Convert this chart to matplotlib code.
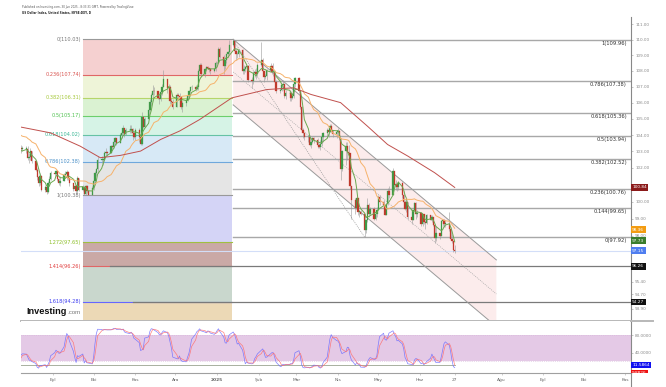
import numpy as np
import pandas as pd
import matplotlib
matplotlib.use('Agg')
import matplotlib.pyplot as plt
import matplotlib.dates as mdates
from matplotlib.ticker import NullLocator
from matplotlib.transforms import blended_transform_factory, Bbox, TransformedBbox
from matplotlib.lines import Line2D

# ---- daily candles, US Dollar Index (one row per week) ----
first_open = 104.95
closes = [
    105.05, 104.45, 104.10,                    # Jul 10-12
    104.25, 104.25, 103.75, 104.20, 104.40,    # Jul 15
    104.30, 104.45, 104.40, 104.35, 104.30,    # Jul 22
    104.55, 104.45, 104.10, 104.40, 103.20,    # Jul 29
    102.70, 102.95, 103.20, 103.15, 103.15,    # Aug 5
    103.15, 102.60, 102.65, 103.00, 102.45,    # Aug 12
    101.90, 101.45, 101.10, 101.50, 100.70,    # Aug 19
    100.85, 100.55, 101.10, 101.35, 101.70,    # Aug 26
    101.65, 101.80, 101.35, 101.10, 101.20,    # Sep 2
    101.60, 101.65, 101.75, 101.40, 101.10,    # Sep 9
    100.75, 100.90, 100.60, 101.40, 100.70,    # Sep 16
    100.85, 100.45, 100.90, 100.60, 100.40,    # Sep 23
    100.80, 101.20, 101.70, 101.95, 102.50,    # Sep 30
    102.50, 102.50, 102.90, 102.95, 102.90,    # Oct 7
    103.30, 103.25, 103.55, 103.80, 103.50,    # Oct 14
    104.00, 104.10, 104.40, 104.05, 104.30,    # Oct 21
    104.30, 104.35, 104.10, 103.90, 104.30,    # Oct 28
    103.90, 103.45, 105.10, 104.50, 105.00,    # Nov 4
    105.55, 106.05, 106.50, 106.75, 106.70,    # Nov 11
    106.30, 106.20, 106.65, 107.00, 107.50,    # Nov 18
    106.90, 107.00, 106.10, 106.05, 105.75,    # Nov 25
    106.45, 106.40, 106.35, 105.75, 106.00,    # Dec 2
    106.15, 106.40, 106.70, 106.95, 107.00,    # Dec 9
    106.85, 106.95, 108.00, 108.40, 107.80,    # Dec 16
    108.10, 108.25, 108.20, 108.10, 108.00,    # Dec 23
    108.10, 108.50, 108.50, 109.40, 108.90,    # Dec 30
    108.30, 108.70, 109.05, 109.20, 109.65,    # Jan 6
    109.90, 109.25, 109.05, 109.10, 109.35,    # Jan 13
    108.00, 108.10, 108.25, 108.30, 107.45,    # Jan 20
    107.35, 107.85, 107.95, 107.80, 108.40,    # Jan 27
    108.70, 108.00, 107.60, 107.70, 108.05,    # Feb 3
    108.30, 107.95, 107.95, 107.30, 106.75,    # Feb 10
    106.80, 107.10, 107.20, 106.40, 106.60,    # Feb 17
    106.60, 106.30, 106.40, 107.20, 107.55,    # Feb 24
    106.75, 105.75, 104.30, 104.10, 103.85,    # Mar 3
    103.90, 103.40, 103.60, 103.80, 103.70,    # Mar 10
    103.40, 103.25, 103.45, 103.85, 104.10,    # Mar 17
    104.30, 104.20, 104.55, 104.30, 104.05,    # Mar 24
    104.20, 104.25, 103.80, 101.95, 103.00,    # Mar 31
    103.30, 102.95, 102.90, 100.90, 100.10,    # Apr 7
    99.65, 100.20, 99.40, 99.40, 99.25,        # Apr 14
    98.35, 98.90, 99.80, 99.30, 99.55,         # Apr 21
    99.00, 99.25, 99.50, 100.25, 100.00,       # Apr 28
    99.80, 99.20, 99.85, 100.65, 100.40,       # May 5
    101.80, 101.00, 101.05, 100.85, 101.10,    # May 12
    100.40, 100.00, 99.55, 99.95, 99.10,       # May 19
    98.95, 99.50, 99.90, 99.30, 99.35,         # May 26
    98.70, 99.25, 98.80, 98.75, 99.20,         # Jun 2
    98.95, 99.10, 98.65, 97.90, 98.15,         # Jun 9
    98.00, 98.85, 98.90, 98.70, 98.70,         # Jun 16
    98.40, 97.85, 97.70, 97.20, 97.15,         # Jun 23
]
highs = [
    105.20, 105.10, 104.60,
    104.40, 104.40, 104.30, 104.30, 104.50,
    104.50, 104.50, 104.50, 104.50, 104.45,
    104.80, 104.60, 104.60, 104.50, 104.40,
    103.30, 103.20, 103.40, 103.40, 103.30,
    103.30, 103.30, 102.90, 103.20, 103.00,
    102.50, 102.00, 101.60, 101.70, 101.60,
    101.00, 101.00, 101.20, 101.50, 101.80,
    101.80, 101.90, 101.80, 101.40, 101.50,
    101.70, 101.80, 101.90, 101.80, 101.40,
    101.10, 101.00, 101.00, 101.50, 101.40,
    101.00, 100.90, 101.00, 101.00, 100.70,
    100.90, 101.30, 101.80, 102.00, 102.70,
    102.70, 102.60, 103.00, 103.20, 103.00,
    103.40, 103.40, 103.70, 103.90, 103.80,
    104.10, 104.30, 104.60, 104.40, 104.40,
    104.60, 104.60, 104.40, 104.20, 104.40,
    104.40, 104.00, 105.40, 105.20, 105.10,
    105.70, 106.20, 106.60, 107.10, 107.00,
    106.70, 106.60, 106.70, 107.20, 108.07,
    107.50, 107.20, 107.10, 106.30, 106.20,
    106.60, 106.60, 106.60, 106.40, 106.10,
    106.30, 106.50, 106.80, 107.00, 107.10,
    107.10, 107.00, 108.10, 108.50, 108.50,
    108.20, 108.30, 108.30, 108.20, 108.20,
    108.20, 108.60, 108.55, 109.55, 109.50,
    109.00, 108.70, 109.10, 109.30, 109.95,
    110.03, 110.00, 109.40, 109.20, 109.40,
    109.40, 108.40, 108.30, 108.40, 108.40,
    107.60, 108.00, 108.10, 108.20, 108.50,
    109.88, 108.80, 108.00, 107.80, 108.10,
    108.50, 108.40, 108.50, 108.00, 107.40,
    106.90, 107.20, 107.40, 107.20, 106.80,
    106.80, 106.70, 106.60, 107.30, 107.60,
    107.60, 106.80, 105.80, 104.40, 104.10,
    104.00, 104.00, 103.80, 103.90, 103.90,
    103.80, 103.50, 103.70, 104.10, 104.20,
    104.40, 104.50, 104.70, 104.70, 104.30,
    104.30, 104.40, 104.30, 103.80, 103.10,
    103.60, 103.60, 103.40, 102.90, 100.95,
    100.20, 100.30, 100.20, 99.50, 99.50,
    99.30, 99.00, 100.20, 99.90, 99.70,
    99.70, 99.30, 99.70, 100.40, 100.40,
    100.10, 99.80, 99.90, 100.80, 100.90,
    101.98, 101.70, 101.30, 101.00, 101.20,
    101.15, 100.60, 100.10, 100.10, 100.00,
    99.20, 99.50, 100.00, 100.00, 99.50,
    99.40, 99.30, 99.20, 98.90, 99.30,
    99.20, 99.20, 99.10, 98.70, 98.60,
    98.20, 98.90, 99.00, 99.00, 98.90,
    99.40, 98.50, 98.10, 97.70, 97.50,
]
lows = [
    104.90, 104.20, 104.00,
    104.00, 104.00, 103.65, 103.70, 104.10,
    104.20, 104.20, 104.20, 104.10, 104.20,
    104.20, 104.30, 103.90, 103.90, 103.00,
    102.20, 102.60, 102.90, 102.90, 103.00,
    102.90, 102.50, 102.30, 102.50, 102.30,
    101.80, 101.30, 100.95, 101.00, 100.60,
    100.55, 100.45, 100.50, 100.90, 101.30,
    101.50, 101.50, 101.20, 101.00, 100.90,
    101.20, 101.40, 101.30, 101.30, 100.90,
    100.60, 100.70, 100.45, 100.50, 100.60,
    100.60, 100.40, 100.40, 100.50, 100.38,
    100.40, 100.70, 101.10, 101.50, 101.70,
    102.30, 102.20, 102.40, 102.80, 102.70,
    102.90, 103.10, 103.20, 103.40, 103.40,
    103.50, 103.80, 104.00, 103.90, 104.00,
    104.10, 104.10, 103.70, 103.80, 103.70,
    103.60, 103.40, 103.40, 104.40, 104.50,
    105.00, 105.50, 105.80, 106.30, 106.50,
    106.20, 105.90, 106.10, 106.50, 107.00,
    106.60, 106.70, 105.90, 105.90, 105.60,
    105.70, 106.20, 106.20, 105.60, 105.40,
    105.80, 106.10, 106.30, 106.60, 106.80,
    106.70, 106.80, 106.80, 107.90, 107.60,
    107.60, 108.00, 108.10, 107.90, 107.80,
    107.90, 108.00, 108.45, 108.50, 108.80,
    107.80, 108.10, 108.50, 108.90, 109.10,
    109.60, 109.20, 108.70, 108.80, 108.90,
    107.80, 107.80, 107.90, 107.90, 107.30,
    106.90, 107.20, 107.60, 107.50, 107.70,
    108.30, 107.80, 107.30, 107.50, 107.40,
    108.00, 107.80, 107.70, 107.20, 106.60,
    106.60, 106.70, 106.80, 106.30, 106.20,
    106.10, 106.10, 106.20, 106.30, 107.00,
    106.60, 105.60, 104.20, 103.80, 103.70,
    103.60, 103.30, 103.20, 103.50, 103.50,
    103.20, 103.20, 103.10, 103.30, 103.60,
    103.90, 103.90, 104.20, 104.20, 103.90,
    103.80, 103.90, 103.70, 101.30, 101.80,
    102.20, 102.50, 101.80, 100.75, 99.00,
    99.30, 99.50, 99.20, 99.10, 99.20,
    97.92, 98.20, 98.80, 99.10, 99.20,
    98.90, 98.90, 99.10, 99.50, 99.80,
    99.60, 99.20, 99.20, 99.80, 100.20,
    100.60, 100.80, 100.70, 100.60, 100.70,
    100.20, 99.90, 99.50, 99.40, 99.00,
    98.70, 98.90, 99.50, 99.00, 99.10,
    98.60, 98.60, 98.70, 98.40, 98.70,
    98.90, 98.80, 98.60, 97.60, 97.70,
    97.80, 98.00, 98.60, 98.50, 98.50,
    98.30, 97.80, 97.60, 97.10, 97.00,
]

# 100-day average
ma100_dates = ['2024-08-07', '2024-08-30', '2024-09-21', '2024-10-06', '2024-10-21',
               '2024-11-05', '2024-11-20', '2024-12-04', '2024-12-19', '2025-01-12',
               '2025-02-07', '2025-02-27', '2025-03-12', '2025-04-03', '2025-04-23',
               '2025-05-08', '2025-05-23', '2025-06-12', '2025-06-27']
ma100_vals = [104.50, 104.13, 103.32, 102.62, 102.76, 103.02, 103.73, 104.24, 104.95,
              106.30, 106.82, 106.93, 106.51, 106.00, 104.54, 103.42, 102.72, 101.72, 100.84]

# fibonacci retracement Sep low -> Jan high
fib_left_ratios = ['0', '0.236', '0.382', '0.5', '0.618', '0.786', '1', '1.272', '1.414', '1.618', '2.618']
fib_left_prices = [110.03, 107.74, 106.31, 105.17, 104.02, 102.38, 100.38, 97.65, 96.26, 94.28, 84.77]
fib_left_span = ['2024-09-23', '2025-01-12']

# fibonacci retracement Jan high -> Apr low
fib_right_ratios = ['1', '0.786', '0.618', '0.5', '0.382', '0.236', '0.144', '0']
fib_right_prices = [109.96, 107.38, 105.36, 103.94, 102.52, 100.76, 99.65, 97.92]
fib_right_anchor = ['2025-01-13', '2025-04-21']

hline_prices = [96.26, 94.27]
hline_starts = ['2024-10-13', '2024-10-30']

channel_dates = ['2025-01-13', '2025-07-28']
channel_upper = [110.03, 96.63]
channel_mid = [107.93, 94.71]
channel_lower = [105.86, 92.91]

last_price = 97.15
badge_vals = [100.84, 98.36, 97.73, 97.15, 96.26, 94.27]
stoch_badges = ['11.5864', '9.8826']
stoch_last = 11.5864

y_ticks = [111, 110, 109, 108, 107, 106, 105, 104, 103, 102, 100, 99, 98, 95.4, 94.7, 93.9]
month_ticks = ['2024-09-01', '2024-10-01', '2024-11-01', '2024-12-01', '2025-01-01', '2025-02-01',
               '2025-03-01', '2025-04-01', '2025-05-01', '2025-06-01', '2025-06-27', '2025-08-01',
               '2025-09-01', '2025-10-01', '2025-11-01']
month_labels = ['Eyl', 'Eki', 'Kas', 'Ara', '2025', 'Şub', 'Mar', 'Nis', 'May', 'Haz', '27',
                'Ağu', 'Eyl', 'Eki', 'Kas']

# ---- styles ----
fib_fill = ['#f5d0d0', '#eef4d8', '#daf2d2', '#d6f3e6', '#d7e9f6', '#e5e5e5',
            '#d4d4f6', '#caa9a6', '#c9d7cd', '#ecd9b6']
fib_line = ['#999999', '#e06666', '#b6d56a', '#6ccf6c', '#66c2a5', '#6fa8dc',
            '#999999', '#a0c040', '#e06666', '#6666ff', '#999999']
fib_text = ['#777777', '#d9534f', '#a5c83a', '#4cc04c', '#3ab795', '#4a90c8',
            '#777777', '#8cbf26', '#e03c3c', '#3c3cf0', '#777777']
badge_colors = ['#8b1a1a', '#f39c12', '#3a7d2c', '#4f7ef0', '#111111', '#111111']

dates = pd.bdate_range('2024-07-10', '2025-06-27')
assert len(dates) == len(closes) == len(highs) == len(lows)
x = mdates.date2num(dates.to_pydatetime())
c = np.array(closes)
o = np.concatenate([[first_open], c[:-1]])
h = np.maximum(np.array(highs), np.maximum(o, c))
l = np.minimum(np.array(lows), np.minimum(o, c))

s = pd.Series(c)
ma_fast = s.rolling(5).mean()
ma_slow = s.rolling(20).mean()
ll = pd.Series(l).rolling(14).min()
hh = pd.Series(h).rolling(14).max()
k_raw = 100 * (s - ll) / (hh - ll)
stoch_k = k_raw.rolling(3).mean()
stoch_d = stoch_k.rolling(3).mean()

def dn(d):
    return mdates.date2num(pd.Timestamp(d).to_pydatetime())

sep1 = dn('2024-09-01')
x0, x1 = sep1 - 24.06, sep1 + 430.3

fig = plt.figure(figsize=(6.66, 3.87), dpi=100)
ax = fig.add_axes([21 / 666, 1 - 321.3 / 387, 610 / 666, 304 / 387])
ax2 = fig.add_axes([21 / 666, 1 - 373.3 / 387, 610 / 666, 52 / 387])

ax.set_yscale('log')
ax.set_xlim(x0, x1)
ax.set_ylim(93.20, 111.46)

# left fib box
fl0, fl1 = dn(fib_left_span[0]), dn(fib_left_span[1])
for i in range(len(fib_left_prices) - 1):
    ax.fill_between([fl0, fl1], fib_left_prices[i + 1], fib_left_prices[i],
                    color=fib_fill[i], lw=0, zorder=1)
for i, (r, p) in enumerate(zip(fib_left_ratios, fib_left_prices)):
    ax.plot([fl0, fl1], [p, p], color=fib_line[i], lw=0.8, zorder=1.5)
    ax.annotate(f'{r}({p:.2f})', (fl0, p), xytext=(-1.5, 0), textcoords='offset points',
                ha='right', va='center', fontsize=3.6, color=fib_text[i],
                annotation_clip=True, clip_on=True)

# right fib lines
fr0 = dn(fib_right_anchor[0])
for r, p in zip(fib_right_ratios, fib_right_prices):
    ax.plot([fr0, x1], [p, p], color='#a8a8a8', lw=1.0, zorder=1.5)
    ax.annotate(f'{r}({p:.2f})', (x1, p), xytext=(-3, -0.8), textcoords='offset points',
                ha='right', va='top', fontsize=3.7, color='#333333')
ax.plot([dn(d) for d in fib_right_anchor], [fib_right_prices[0], fib_right_prices[-1]],
        color='#999999', lw=0.5, ls=(0, (1.5, 1.5)), zorder=1.6)

for p, d in zip(hline_prices, hline_starts):
    ax.plot([dn(d), x1], [p, p], color='#7a7a7a', lw=0.9, zorder=1.6)

ax.plot([x0, x1], [last_price, last_price], color='#d3def8', lw=0.8, zorder=1.2)

# channel
cd = [dn(d) for d in channel_dates]
ax.fill([cd[0], cd[1], cd[1], cd[0]],
        [channel_upper[0], channel_upper[1], channel_lower[1], channel_lower[0]],
        color='#fcecec', lw=0, zorder=0.9)
ax.plot(cd, channel_upper, color='#9a9a9a', lw=0.7, zorder=1.7)
ax.plot(cd, channel_lower, color='#9a9a9a', lw=0.7, zorder=1.7)
ax.plot(cd, channel_mid, color='#a8a8a8', lw=0.5, ls=(0, (1.5, 1.5)), zorder=1.7)

# candles
up = c >= o
cols = np.where(up, '#3f9a48', '#c0392b')
ax.vlines(x, l, h, color='#9a9a9a', lw=0.4, zorder=2)
body_lo = np.minimum(o, c)
body_h = np.maximum(np.abs(c - o), 0.03)
ax.bar(x, body_h, bottom=body_lo, width=1.0, color=cols, edgecolor=cols, lw=0.2, zorder=3)

ax.plot(x, ma_fast, color='#6aa84f', lw=0.7, zorder=4)
ax.plot(x, ma_slow, color='#f6b26b', lw=0.7, zorder=4)
ax.plot([dn(d) for d in ma100_dates], ma100_vals, color='#c0504d', lw=0.7, zorder=4)

# axes cosmetics
ax.set_xticks([])
ax.yaxis.set_ticks_position('right')
ax.set_yticks(y_ticks)
ax.set_yticklabels([f'{v:.2f}' for v in y_ticks])
ax.yaxis.set_minor_locator(NullLocator())
ax.tick_params(axis='y', labelsize=3, labelcolor='#888888', color='#999999',
               length=1.5, width=0.4, pad=1.5)
for sp in ['top', 'left']:
    ax.spines[sp].set_visible(False)
ax.spines['bottom'].set_color('#b8b8b8')
ax.spines['bottom'].set_linewidth(1.4)
ax.spines['right'].set_color('#888888')
ax.spines['right'].set_linewidth(0.8)

tr = blended_transform_factory(ax.transAxes, ax.transData)
for v, col in zip(badge_vals, badge_colors):
    ax.text(1.002, v, f'{v:.2f}', transform=tr, fontsize=3.1, color='white',
            ha='left', va='center', clip_on=False, zorder=10,
            bbox=dict(boxstyle='square,pad=0.3', fc=col, ec='none'))

# stochastic panel
ax2.set_xlim(x0, x1)
ax2.set_ylim(-7.6, 112)
ax2.axhspan(20, 80, color='#e4c9e6', lw=0, zorder=0.5)
ax2.axhline(80, color='#d5b5d8', lw=0.5, ls=':', zorder=0.6)
ax2.axhline(20, color='#d5b5d8', lw=0.5, ls=':', zorder=0.6)
ax2.plot([x[0], x[-1]], [stoch_last, stoch_last], color='#a8b0a0', lw=0.7, zorder=0.7)
ax2.plot(x, stoch_k, color='#6b6bff', lw=0.5, alpha=0.85, zorder=2)
ax2.plot(x, stoch_d, color='#ff6b6b', lw=0.5, alpha=0.85, zorder=2)
ax2.yaxis.set_ticks_position('right')
ax2.set_yticks([80, 40])
ax2.set_yticklabels(['80.0000', '40.0000'])
ax2.tick_params(axis='y', labelsize=3, labelcolor='#888888', color='#999999',
                length=1.5, width=0.4, pad=1.5)
ax2.set_xticks([dn(d) for d in month_ticks])
ax2.set_xticklabels(month_labels)
ax2.tick_params(axis='x', labelsize=3.2, labelcolor='#666666', color='#aaaaaa',
                length=1.5, width=0.4, pad=2)
for t in ax2.get_xticklabels():
    if t.get_text() == '2025':
        t.set_fontweight('bold')
for sp in ['top', 'left']:
    ax2.spines[sp].set_visible(False)
ax2.spines['bottom'].set_color('#a0a0a0')
ax2.spines['bottom'].set_linewidth(0.8)
ax2.spines['right'].set_color('#888888')
ax2.spines['right'].set_linewidth(0.8)

tr2 = blended_transform_factory(ax2.transAxes, ax2.transData)
ax2.text(1.002, stoch_last, stoch_badges[0], transform=tr2, fontsize=3.1, color='white',
         ha='left', va='center', clip_on=False, zorder=10,
         bbox=dict(boxstyle='square,pad=0.3', fc='#1010f0', ec='none'))
t2 = ax2.text(1.002, -8.0, stoch_badges[1], transform=tr2, fontsize=3.1, color='white',
              ha='left', va='center', zorder=10,
              bbox=dict(boxstyle='square,pad=0.3', fc='#ee1111', ec='none'))
t2.set_clip_box(TransformedBbox(Bbox([[0, 1 - 373.3 / 387], [1, 0.5]]), fig.transFigure))
t2.set_clip_on(True)

fig.add_artist(Line2D([631 / 666, 631 / 666], [0, 1 - 373.3 / 387], transform=fig.transFigure,
                      color='#888888', lw=0.8))
fig.add_artist(Line2D([631 / 666, 653 / 666], [1 - 321.3 / 387] * 2, transform=fig.transFigure,
                      color='#b8b8b8', lw=1.4))

# header and logo
fig.text(22 / 666, 1 - 6.7 / 387,
         'Published on Investing.com, 30 Jun 2025 - 8:33:31 GMT, Powered by TradingView.',
         fontsize=2.0, color='#555555', va='center')
fig.text(22 / 666, 1 - 13.3 / 387, 'US Dollar Index, United States, NYSE:DXY, D',
         fontsize=2.0, fontweight='bold', color='#222222', va='center')
fig.text(26 / 666, 1 - 311 / 387, 'Investing', fontsize=6.6, fontweight='bold',
         family='Liberation Sans', color='#111111', va='center', ha='left')
fig.text(67.5 / 666, 1 - 312 / 387, '.com', fontsize=4.4, family='Liberation Sans',
         color='#777777', va='center', ha='left')

fig.savefig('out.png', dpi=100)
